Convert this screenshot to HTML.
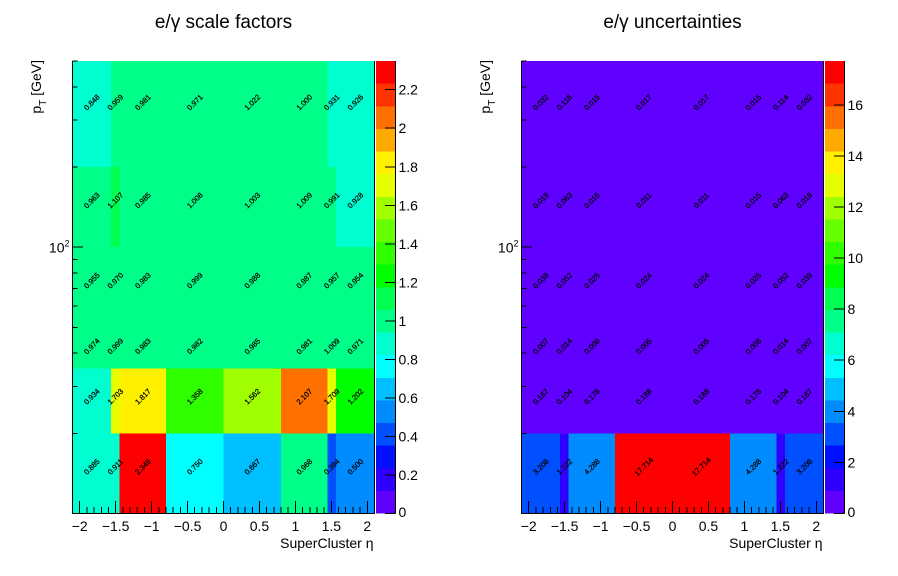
<!DOCTYPE html>
<html lang="en">
<head>
<meta charset="utf-8">
<title>e/γ scale factors and uncertainties</title>
<style>
  html, body { margin: 0; padding: 0; background: #fff; }
  svg { display: block; font-family: "Liberation Sans", "DejaVu Sans", sans-serif; }
  text { fill: #000; }
</style>
</head>
<body>
<svg id="chart" xmlns="http://www.w3.org/2000/svg" width="898" height="576" viewBox="0 0 898 576"></svg>
<script>
// ---- data ----
const etaEdges = [-2.1, -1.566, -1.4442, -0.8, 0, 0.8, 1.4442, 1.566, 2.1];
const ptEdges = [10, 20, 35, 50, 100, 200, 500];

// rows run from the lowest pT bin to the highest
const scaleFactorRow0 = [0.885, 0.911, 2.349, 0.750, 0.667, 0.968, 0.394, 0.500];
const scaleFactorRow1 = [0.934, 1.703, 1.817, 1.358, 1.562, 2.107, 1.709, 1.202];
const scaleFactorRow2 = [0.974, 0.999, 0.983, 0.982, 0.985, 0.981, 1.009, 0.971];
const scaleFactorRow3 = [0.955, 0.970, 0.983, 0.999, 0.988, 0.987, 0.957, 0.954];
const scaleFactorRow4 = [0.963, 1.107, 0.985, 1.008, 1.003, 1.009, 0.991, 0.928];
const scaleFactorRow5 = [0.848, 0.959, 0.981, 0.971, 1.022, 1.000, 0.931, 0.926];

const uncertaintyRow0 = [3.208, 1.222, 4.288, 17.714, 17.714, 4.288, 1.222, 3.208];
const uncertaintyRow1 = [0.167, 0.104, 0.178, 0.188, 0.188, 0.178, 0.104, 0.167];
const uncertaintyRow2 = [0.007, 0.014, 0.008, 0.005, 0.005, 0.008, 0.014, 0.007];
const uncertaintyRow3 = [0.039, 0.052, 0.025, 0.024, 0.024, 0.025, 0.052, 0.039];
const uncertaintyRow4 = [0.019, 0.063, 0.015, 0.011, 0.011, 0.015, 0.063, 0.018];
const uncertaintyRow5 = [0.032, 0.116, 0.015, 0.017, 0.017, 0.015, 0.114, 0.032];

const etaMajorTicks = [-2, -1.5, -1, -0.5, 0, 0.5, 1, 1.5, 2];
const etaTickLabels = ["\u22122", "\u22121.5", "\u22121", "\u22120.5", "0", "0.5", "1", "1.5", "2"];
const etaMinorTicks = [-2, -1.9, -1.8, -1.7, -1.6, -1.5, -1.4, -1.3, -1.2, -1.1, -1, -0.9, -0.8, -0.7, -0.6, -0.5, -0.4, -0.3, -0.2, -0.1, 0, 0.1, 0.2, 0.3, 0.4, 0.5, 0.6, 0.7, 0.8, 0.9, 1, 1.1, 1.2, 1.3, 1.4, 1.5, 1.6, 1.7, 1.8, 1.9, 2];
const ptMinorTicks = [20, 30, 40, 50, 60, 70, 80, 90, 200, 300, 400, 500];
const ptMajorTick = 100;

const scaleFactorPaletteTicks = [0, 0.2, 0.4, 0.6, 0.8, 1, 1.2, 1.4, 1.6, 1.8, 2, 2.2];
const uncertaintyPaletteTicks = [0, 2, 4, 6, 8, 10, 12, 14, 16];

const paletteColors = ["#6000ff", "#3000ff", "#0010ff", "#0050ff", "#008cff", "#00bfff", "#00ffff", "#00ffd0", "#00ff88", "#00ff50", "#00ff00", "#30ff00", "#66ff00", "#a0ff00", "#e6ff00", "#fff000", "#ffaa00", "#ff7000", "#ff3300", "#ff0000"];

const scaleFactorRows = [scaleFactorRow0, scaleFactorRow1, scaleFactorRow2, scaleFactorRow3, scaleFactorRow4, scaleFactorRow5];
const uncertaintyRows = [uncertaintyRow0, uncertaintyRow1, uncertaintyRow2, uncertaintyRow3, uncertaintyRow4, uncertaintyRow5];

// ---- drawing ----
const SVG_NS = "http://www.w3.org/2000/svg";
const root = document.getElementById("chart");

function make(parent, tag, attrs, content) {
  const el = document.createElementNS(SVG_NS, tag);
  for (const key in attrs) el.setAttribute(key, attrs[key]);
  if (content !== undefined) el.textContent = content;
  parent.appendChild(el);
  return el;
}

function drawPlot(titleText, rows, paletteTicks, offset, plotName) {
  const left = 72.5 + offset, right = 374.5 + offset, top = 61, bottom = 513.5;
  const x = eta => 223.5 + offset + (eta / 2.1) * 151;
  const minPt = ptEdges[0], maxPt = ptEdges[ptEdges.length - 1];
  const y = pt => bottom - (Math.log10(pt / minPt) / Math.log10(maxPt / minPt)) * (bottom - top);

  const plot = make(root, "g", {});
  
  

  const title = make(plot, "text", { x: 223.5 + offset, y: 28, "text-anchor": "middle", "font-size": 19 }, titleText);
  
  

  const maxValue = Math.max(...rows.flat());
  const bandOf = v => Math.min(paletteColors.length - 1, Math.max(0, Math.floor(v / maxValue * paletteColors.length)));

  // heatmap cells
  const cells = make(plot, "g", { "shape-rendering": "crispEdges" });
  
  
  rows.forEach((row, r) => {
    row.forEach((value, c) => {
      const x0 = x(etaEdges[c]), x1 = x(etaEdges[c + 1]);
      const y0 = y(ptEdges[r + 1]), y1 = y(ptEdges[r]);
      const cell = make(cells, "rect", { x: x0, y: y0, width: x1 - x0, height: y1 - y0, fill: paletteColors[bandOf(value)] });
      
      
    });
  });

  // cell value labels sit at the arithmetic bin centre
  const labels = make(plot, "g", { "font-size": 7.5, "text-anchor": "middle", stroke: "#000", "stroke-width": 0.25 });
  
  
  rows.forEach((row, r) => {
    row.forEach((value, c) => {
      const cx = x((etaEdges[c] + etaEdges[c + 1]) / 2);
      const cy = y((ptEdges[r] + ptEdges[r + 1]) / 2);
      const label = make(labels, "text", { x: cx, y: cy + 2.7, transform: "rotate(-45 " + cx + " " + cy + ")" }, value.toFixed(3));
      
      
    });
  });

  // frame and axes
  const axes = make(plot, "g", { stroke: "#000", "stroke-width": 1, "shape-rendering": "crispEdges", fill: "none" });
  
  
  make(axes, "path", { d: "M" + left + " " + top + "V" + bottom + "H" + right + "V" + top });

  etaMinorTicks.forEach(t => {
    make(axes, "line", { x1: x(t), x2: x(t), y1: bottom, y2: bottom - 6.5 });
  });
  etaMajorTicks.forEach((t, i) => {
    make(axes, "line", { x1: x(t), x2: x(t), y1: bottom, y2: bottom - 12.5 });
    const tick = make(plot, "text", { x: x(t), y: 531, "text-anchor": "middle", "font-size": 14 }, etaTickLabels[i]);
    
    
  });
  ptMinorTicks.forEach(t => {
    make(axes, "line", { x1: left, x2: left + 5, y1: y(t), y2: y(t) });
  });
  make(axes, "line", { x1: left, x2: left + 10.5, y1: y(ptMajorTick), y2: y(ptMajorTick) });

  const yTick = make(plot, "text", { x: 69.5 + offset, y: y(ptMajorTick) + 5.5, "text-anchor": "end", "font-size": 14 });
  
  
  make(yTick, "tspan", {}, "10");
  make(yTick, "tspan", { "font-size": 9, dy: -6 }, "2");

  const xTitle = make(plot, "text", { x: 373.5 + offset, y: 548, "text-anchor": "end", "font-size": 14 }, "SuperCluster \u03b7");
  
  

  const yTitle = make(plot, "text", { x: 0, y: 0, "text-anchor": "end", "font-size": 14, transform: "translate(" + (41 + offset) + " 60) rotate(-90)" });
  
  
  make(yTitle, "tspan", {}, "p");
  make(yTitle, "tspan", { "font-size": 10, dy: 5 }, "T");
  make(yTitle, "tspan", { dy: -5 }, " [GeV]");

  // palette
  const palette = make(plot, "g", { "shape-rendering": "crispEdges" });
  
  
  const palLeft = 376 + offset, palRight = 395.5 + offset;
  const palY = v => bottom - (v / maxValue) * (bottom - top);
  paletteColors.forEach((color, i) => {
    const y0 = palY((i + 1) * maxValue / paletteColors.length);
    const y1 = palY(i * maxValue / paletteColors.length);
    const band = make(palette, "rect", { x: palLeft, y: y0, width: palRight - palLeft, height: y1 - y0, fill: color });
    
    
  });
  make(palette, "path", { d: "M" + palRight + " " + top + "V" + bottom, stroke: "#000", fill: "none" });
  paletteTicks.forEach(t => {
    make(palette, "line", { x1: palRight - 10.5, x2: palRight, y1: palY(t), y2: palY(t), stroke: "#000" });
    const tick = make(plot, "text", { x: palRight + 3, y: Math.min(palY(t) + 5, 517), "font-size": 14 }, String(t));
    
    
  });
}

drawPlot("e/\u03b3 scale factors", scaleFactorRows, scaleFactorPaletteTicks, 0, "scale-factors-plot");
drawPlot("e/\u03b3 uncertainties", uncertaintyRows, uncertaintyPaletteTicks, 449, "uncertainties-plot");
</script>
</body>
</html>
